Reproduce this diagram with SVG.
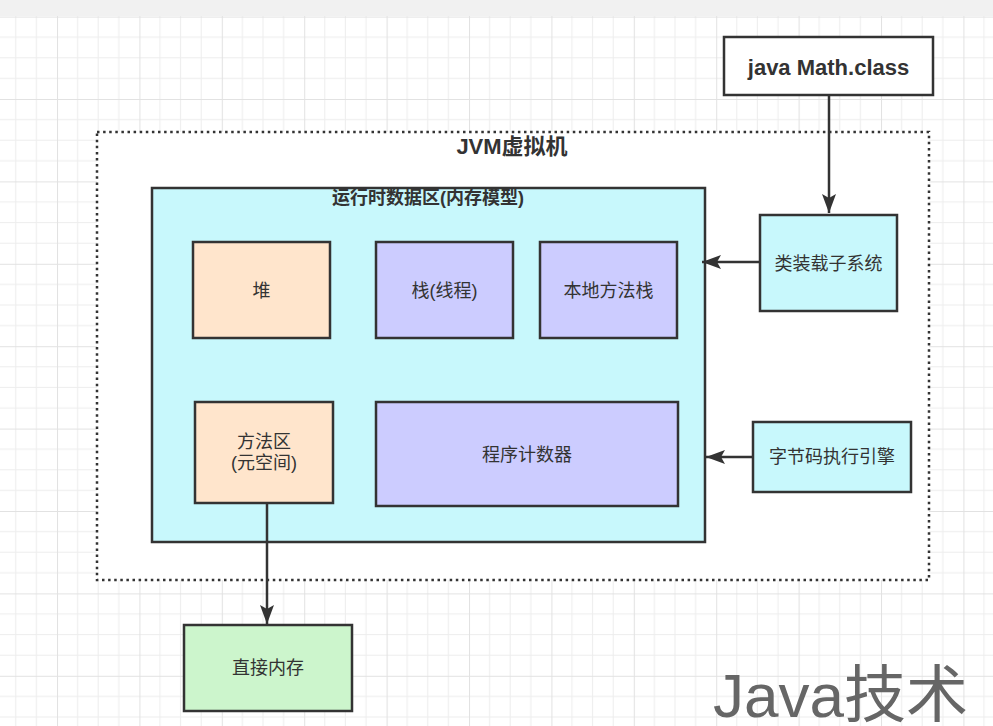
<svg xmlns="http://www.w3.org/2000/svg" width="993" height="726" viewBox="0 0 993 726">
<style>
.box{stroke:#333;stroke-width:2.5}
.t{font-family:"Liberation Sans","Noto Sans CJK SC",sans-serif;font-size:18px;fill:#333;text-anchor:middle;dominant-baseline:central}
.b{font-weight:bold}
.edge{stroke:#333;stroke-width:2.5;fill:none}
</style>
<defs>
<pattern id="grid" patternUnits="userSpaceOnUse" x="-25.4" y="16.6" width="82.4" height="82.4">
<rect width="82.4" height="82.4" fill="#fff"/>
<path d="M20.6 0V82.4M41.2 0V82.4M61.8 0V82.4M0 20.6H82.4M0 41.2H82.4M0 61.8H82.4" stroke="#ededed" stroke-width="1"/>
<path d="M0.5 0V82.4M0 0.5H82.4" stroke="#e2e2e2" stroke-width="1"/>
</pattern>
<marker id="arr" markerUnits="userSpaceOnUse" viewBox="0 0 20 14" refX="19" refY="7" markerWidth="20" markerHeight="14" orient="auto">
<path d="M0 0L19 7L0 14L4 7Z" fill="#333"/>
</marker>
</defs>
<rect width="993" height="726" fill="url(#grid)"/>
<rect width="993" height="16" fill="#f1f1f1"/>

<g id="jvm">
<rect x="97" y="132" width="832" height="448" fill="#fff" stroke="#333" stroke-width="2.5" stroke-dasharray="2.5 3.6"/>
<text class="t b" x="512" y="146" style="font-size:22px">JVM虚拟机</text>
</g>

<g id="runtime">
<rect class="box" x="152" y="188" width="553" height="354" fill="#c8f8fc"/>
<text class="t b" x="428" y="198">运行时数据区(内存模型)</text>
</g>

<g id="heap">
<rect class="box" x="193" y="242" width="137" height="96" fill="#ffe5cc"/>
<text class="t" x="261.5" y="291">堆</text>
</g>

<g id="stack">
<rect class="box" x="376" y="242" width="137" height="96" fill="#ccccff"/>
<text class="t" x="444.5" y="291">栈(线程)</text>
</g>

<g id="native-stack">
<rect class="box" x="540" y="242" width="137" height="96" fill="#ccccff"/>
<text class="t" x="608.5" y="291">本地方法栈</text>
</g>

<g id="method-area">
<rect class="box" x="195" y="402" width="138" height="101" fill="#ffe5cc"/>
<text class="t" x="264" y="442">方法区</text>
<text class="t" x="264" y="463">(元空间)</text>
</g>

<g id="pc">
<rect class="box" x="376" y="402" width="302" height="104" fill="#ccccff"/>
<text class="t" x="527" y="455">程序计数器</text>
</g>

<g id="math-class">
<rect class="box" x="724" y="37" width="209" height="58" fill="#fff"/>
<text class="t b" x="828.5" y="67" style="font-size:22px">java Math.class</text>
</g>

<g id="class-loader">
<rect class="box" x="760" y="215" width="137" height="96" fill="#c8f8fc"/>
<text class="t" x="828.5" y="264">类装载子系统</text>
</g>

<g id="engine">
<rect class="box" x="753" y="422" width="158" height="70" fill="#c8f8fc"/>
<text class="t" x="832" y="457">字节码执行引擎</text>
</g>

<g id="direct-memory">
<rect class="box" x="184" y="625" width="168" height="86" fill="#ccf5cc"/>
<text class="t" x="268" y="668">直接内存</text>
</g>

<g id="connectors">
<path class="edge" d="M829 96V213" marker-end="url(#arr)"/>
<path class="edge" d="M759 262H702" marker-end="url(#arr)"/>
<path class="edge" d="M752 457H706" marker-end="url(#arr)"/>
<path class="edge" d="M267 504V624" marker-end="url(#arr)"/>
</g>

<text x="713" y="717" style="font-family:'Liberation Sans','Noto Sans CJK SC',sans-serif;font-size:62px;fill:#666">Java技术</text>
</svg>
